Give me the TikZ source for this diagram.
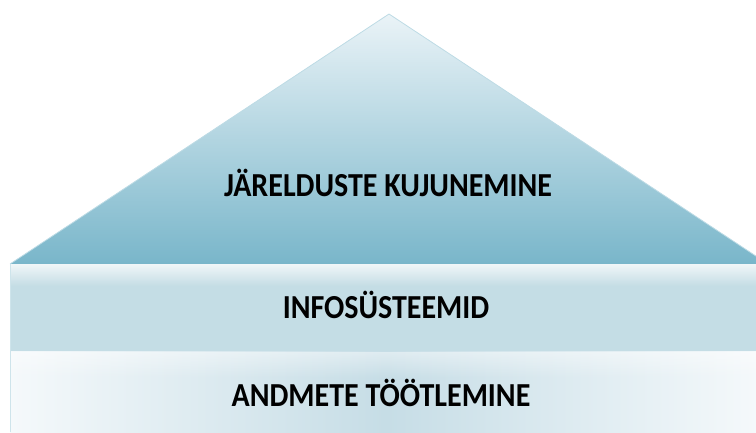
\documentclass[tikz,border=0pt]{standalone}
\usepackage{fontspec}
\setmainfont{Carlito}
\usetikzlibrary{fadings}
\begin{document}
\begin{tikzpicture}[x=1pt,y=-1pt,
  lbl/.style={font=\bfseries\fontsize{30}{36}\selectfont, text=black, inner sep=0pt, anchor=center, yscale=1.12, transform shape}]
\useasboundingbox (0,0) rectangle (756,432);
\definecolor{triTop}{HTML}{EAF3F7}
\definecolor{triBot}{HTML}{79B6CA}
\definecolor{midC}{HTML}{C4DDE5}
\definecolor{lineC}{HTML}{9CC9D7}
\definecolor{botE}{HTML}{F5F9FB}
\definecolor{botM}{HTML}{C6DDE6}
\begin{scope}
\clip (0,0) rectangle (756,432);
% triangle roof
\shade[top color=triTop, bottom color=triBot] (10,264) -- (389,14) -- (768,264) -- cycle;
\draw[draw=triTop!60!triBot, line width=0.8pt] (10,264) -- (389,14) -- (768,264);
% middle band
\fill[midC] (10,264) rectangle (760,351);
\fill[white, path fading=south, opacity=0.75] (10,264) rectangle (760,286);
\draw[lineC, line width=1pt] (10,351) -- (760,351);
% bottom band
\shade[left color=botE, right color=botE, middle color=botM] (10,351.5) rectangle (760,432);
\fill[white, path fading=south, opacity=0.45] (10,351.5) rectangle (760,378);
\draw[lineC!50!white, line width=0.6pt] (10.3,264) -- (10.3,432);
\end{scope}
\node[lbl] (top) at (388,183) {JÄRELDUSTE KUJUNEMINE};
\node[lbl] (mid) at (386,305) {INFOSÜSTEEMID};
\node[lbl] (bot) at (381,393) {ANDMETE TÖÖTLEMINE};
\end{tikzpicture}
\end{document}
